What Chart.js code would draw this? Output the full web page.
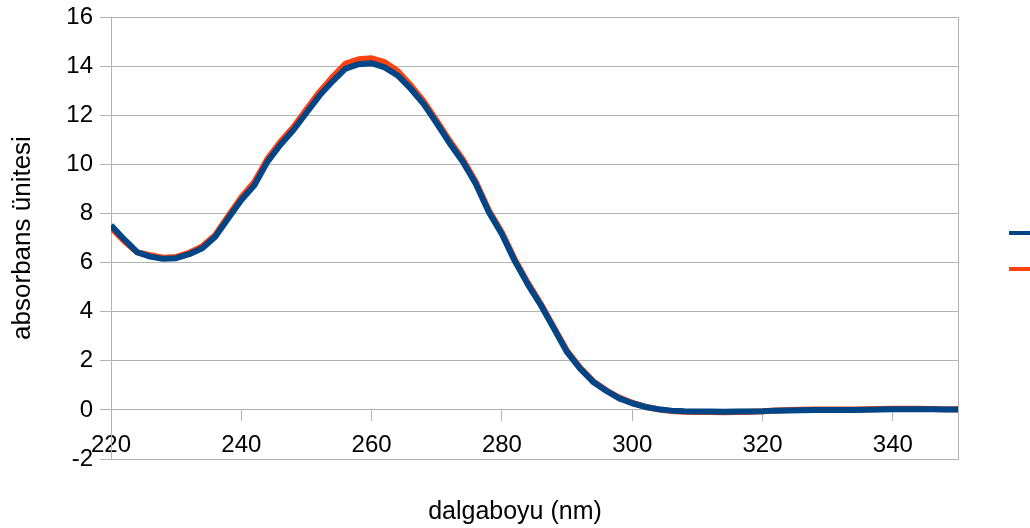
<!DOCTYPE html>
<html lang="tr">
<head>
<meta charset="utf-8">
<title>Absorbans spektrumu</title>
<script src="https://cdn.jsdelivr.net/npm/chart.js@4.4.1/dist/chart.umd.min.js"></script>
<style>
    html, body { margin: 0; padding: 0; background: #fff; overflow: hidden; }
    #wrap { position: relative; width: 1030px; height: 528px; }
</style>
</head>
<body>
<div id="wrap"><canvas id="spectrumChart"></canvas></div>
<script>
// dalgaboyu (nm), 2 nm adım
const wavelengths = [
    220, 222, 224, 226, 228, 230, 232, 234, 236, 238,
    240, 242, 244, 246, 248, 250, 252, 254, 256, 258,
    260, 262, 264, 266, 268, 270, 272, 274, 276, 278,
    280, 282, 284, 286, 288, 290, 292, 294, 296, 298,
    300, 302, 304, 306, 308, 310, 312, 314, 316, 318,
    320, 322, 324, 326, 328, 330, 332, 334, 336, 338,
    340, 342, 344, 346, 348, 350
];

// birinci ölçüm (mavi)
const absorbanceA = [
    7.52, 6.95, 6.42, 6.24, 6.15, 6.18, 6.34, 6.58, 7.05, 7.8,
    8.55, 9.15, 10.1, 10.8, 11.4, 12.1, 12.8, 13.38, 13.9, 14.08,
    14.12, 13.95, 13.62, 13.08, 12.45, 11.67, 10.85, 10.11, 9.2, 8.05,
    7.15, 6.05, 5.1, 4.25, 3.3, 2.35, 1.68, 1.14, 0.78, 0.47,
    0.27, 0.12, 0.03, -0.03, -0.06, -0.07, -0.07, -0.08, -0.07, -0.07,
    -0.06, -0.03, -0.02, -0.01, 0, 0, 0, 0, 0.01, 0.02,
    0.03, 0.03, 0.03, 0.03, 0.02, 0.02
];

// ikinci ölçüm (turuncu)
const absorbanceB = [
    7.42, 6.88, 6.42, 6.3, 6.2, 6.23, 6.4, 6.66, 7.12, 7.9,
    8.66, 9.28, 10.22, 10.92, 11.52, 12.24, 12.95, 13.56, 14.1, 14.28,
    14.32, 14.16, 13.8, 13.22, 12.56, 11.77, 10.95, 10.2, 9.28, 8.12,
    7.22, 6.12, 5.16, 4.3, 3.35, 2.4, 1.72, 1.17, 0.8, 0.5,
    0.29, 0.13, 0.02, -0.05, -0.08, -0.09, -0.09, -0.1, -0.09, -0.08,
    -0.06, -0.02, 0, 0.01, 0.02, 0.02, 0.02, 0.02, 0.03, 0.04,
    0.05, 0.05, 0.05, 0.04, 0.03, 0.03
];

const xRange = [220, 350];
const yRange = [-2, 16];

const gridColor = '#b3b3b3';

Chart.defaults.font.family = "'Liberation Sans', Arial, sans-serif";
Chart.defaults.color = '#000';

function toPoints(values) {
    return wavelengths.map((w, i) => ({ x: w, y: values[i] }));
}

// dikey eksenlerin genişliğini sabitle, etiket payını kaldır
function fixedWidth(width) {
    return scale => {
        scale.width = width;
        scale.paddingTop = 0;
        scale.paddingBottom = 0;
    };
}

function renderSpectrumChart() {
    const ctx = document.getElementById('spectrumChart').getContext('2d');

    new Chart(ctx, {
        type: 'line',
        data: {
            datasets: [
                {
                    label: '',
                    data: toPoints(absorbanceA),
                    borderColor: '#004586',
                    backgroundColor: '#004586',
                    borderWidth: 6,
                    borderJoinStyle: 'round',
                    pointRadius: 0,
                    tension: 0,
                    fill: false
                },
                {
                    label: '',
                    data: toPoints(absorbanceB),
                    borderColor: '#ff420e',
                    backgroundColor: '#ff420e',
                    borderWidth: 6,
                    borderJoinStyle: 'round',
                    pointRadius: 0,
                    tension: 0,
                    fill: false
                }
            ]
        },
        options: {
            responsive: true,
            maintainAspectRatio: false,
            animation: false,
            layout: {
                padding: { top: 17, left: 0, right: 0, bottom: 0 }
            },
            scales: {
                x: {
                    type: 'linear',
                    position: { y: 0 },
                    min: xRange[0],
                    max: xRange[1],
                    afterFit: scale => { scale.height = 0; },
                    ticks: {
                        stepSize: 20,
                        includeBounds: false,
                        padding: 10,
                        maxRotation: 0,
                        font: { size: 24 }
                    },
                    grid: {
                        drawOnChartArea: false,
                        drawTicks: true,
                        tickLength: 11,
                        color: gridColor
                    },
                    border: { color: gridColor }
                },
                y: {
                    position: 'left',
                    min: yRange[0],
                    max: yRange[1],
                    afterFit: fixedWidth(111),
                    ticks: {
                        stepSize: 2,
                        padding: 7,
                        font: { size: 24 }
                    },
                    grid: {
                        color: gridColor,
                        tickLength: 11
                    },
                    border: { color: gridColor },
                    title: {
                        display: true,
                        text: 'absorbans ünitesi',
                        padding: { top: 7, bottom: 0 },
                        font: { size: 26 }
                    }
                },
                y2: {
                    position: 'right',
                    afterFit: fixedWidth(41),
                    ticks: { display: false },
                    grid: { display: false, drawTicks: false },
                    border: { color: gridColor }
                }
            },
            plugins: {
                title: {
                    display: true,
                    position: 'bottom',
                    text: 'dalgaboyu (nm)',
                    color: '#000',
                    padding: { top: 38, bottom: 1 },
                    font: { size: 25, weight: 'normal' }
                },
                legend: {
                    position: 'right',
                    fullSize: false,
                    maxWidth: 31,
                    title: {
                        display: true,
                        text: '',
                        padding: { top: 1, bottom: 1 },
                        font: { size: 20 }
                    },
                    labels: {
                        boxWidth: 22,
                        boxHeight: 4,
                        padding: 10,
                        font: { size: 26 },
                        generateLabels: chart => Chart.defaults.plugins.legend.labels.generateLabels(chart)
                            .map(item => ({ ...item, fillStyle: item.strokeStyle, lineWidth: 0 }))
                    }
                },
                tooltip: { enabled: false }
            }
        }
    });
}

renderSpectrumChart();
</script>
</body>
</html>
